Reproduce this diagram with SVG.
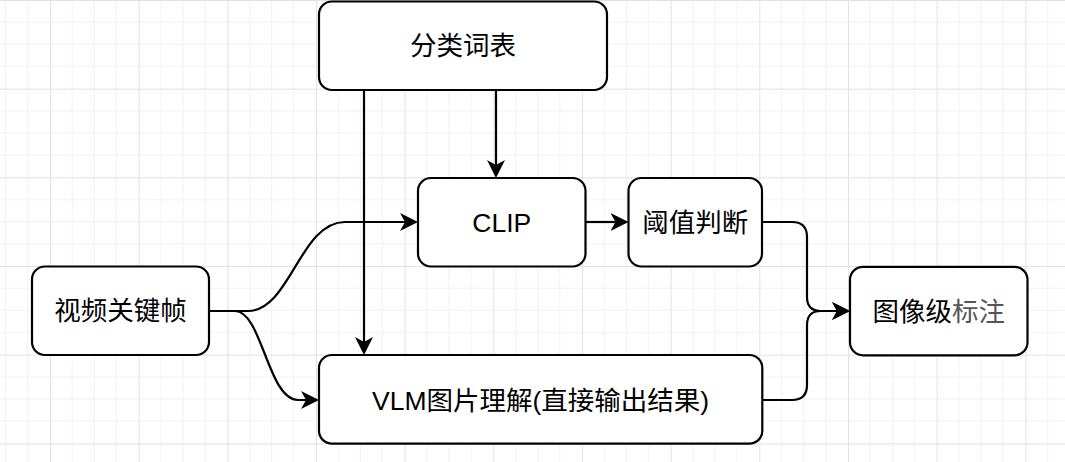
<svg xmlns="http://www.w3.org/2000/svg" width="1065" height="462" viewBox="0 0 1065 462">
  <defs>
    <pattern id="grid" patternUnits="userSpaceOnUse" x="50" y="0" width="88.67" height="88.67">
      <path d="M22.17,0 V88.67 M44.33,0 V88.67 M66.5,0 V88.67 M0,22.17 H88.67 M0,44.33 H88.67 M0,66.5 H88.67" stroke="#f1f1f1" stroke-width="1" fill="none"/>
      <path d="M0.5,0 V88.67 M0,0.5 H88.67" stroke="#e2e2e2" stroke-width="1" fill="none"/>
    </pattern>
    <marker id="arrow" markerUnits="userSpaceOnUse" viewBox="0 0 18 18" markerWidth="18" markerHeight="18" refX="5" refY="9" orient="auto">
      <path d="M0,0 L18,9 L0,18 L5,9 Z" fill="#000"/>
    </marker>
    <style>
      .box { fill: #fff; stroke: #000; stroke-width: 2.2; }
      .lbl { font-family: "Liberation Sans", "Noto Sans CJK SC", sans-serif; font-size: 26.5px; fill: #000; text-anchor: middle; }
      .edge { fill: none; stroke: #000; stroke-width: 2.2; marker-end: url(#arrow); }
    </style>
  </defs>
  <rect x="0" y="0" width="1065" height="462" fill="#fff"/>
  <rect x="0" y="0" width="1065" height="462" fill="url(#grid)"/>

  <g id="connectors">
    <path class="edge" d="M496,90 V165"/>
    <path class="edge" d="M364,90 V342"/>
    <path class="edge" d="M585.5,222 H615.5"/>
    <path class="edge" d="M209,311 H248 C290,311 300,222 345,222 H405"/>
    <path class="edge" d="M209,311 H235 C262,311 268,400 298,400 H306"/>
    <path class="edge" d="M762,222 H792 Q807,222 807,237 V297 Q807,311 821,311 H837"/>
    <path class="edge" d="M762,400 H792 Q807,400 807,385 V325 Q807,311 821,311 H837"/>
  </g>

  <g id="node-vocab">
    <rect class="box" x="319" y="1.5" width="288" height="88.5" rx="13"/>
    <text class="lbl" x="463" y="54.5">分类词表</text>
  </g>
  <g id="node-clip">
    <rect class="box" x="418" y="178" width="167.5" height="88.5" rx="13"/>
    <text class="lbl" x="501.8" y="231.5">CLIP</text>
  </g>
  <g id="node-threshold">
    <rect class="box" x="628.5" y="178" width="133.5" height="88.5" rx="13"/>
    <text class="lbl" x="695.2" y="231.5">阈值判断</text>
  </g>
  <g id="node-keyframes">
    <rect class="box" x="32" y="266.5" width="177" height="88.5" rx="13"/>
    <text class="lbl" x="120.5" y="320">视频关键帧</text>
  </g>
  <g id="node-label">
    <rect class="box" x="850" y="266.8" width="177.5" height="88.5" rx="13"/>
    <text class="lbl" x="938.8" y="320.5">图像级<tspan fill="#555">标注</tspan></text>
  </g>
  <g id="node-vlm">
    <rect class="box" x="319" y="355" width="443.3" height="88.7" rx="13"/>
    <text class="lbl" x="540.6" y="409.5">VLM图片理解(直接输出结果)</text>
  </g>
</svg>
